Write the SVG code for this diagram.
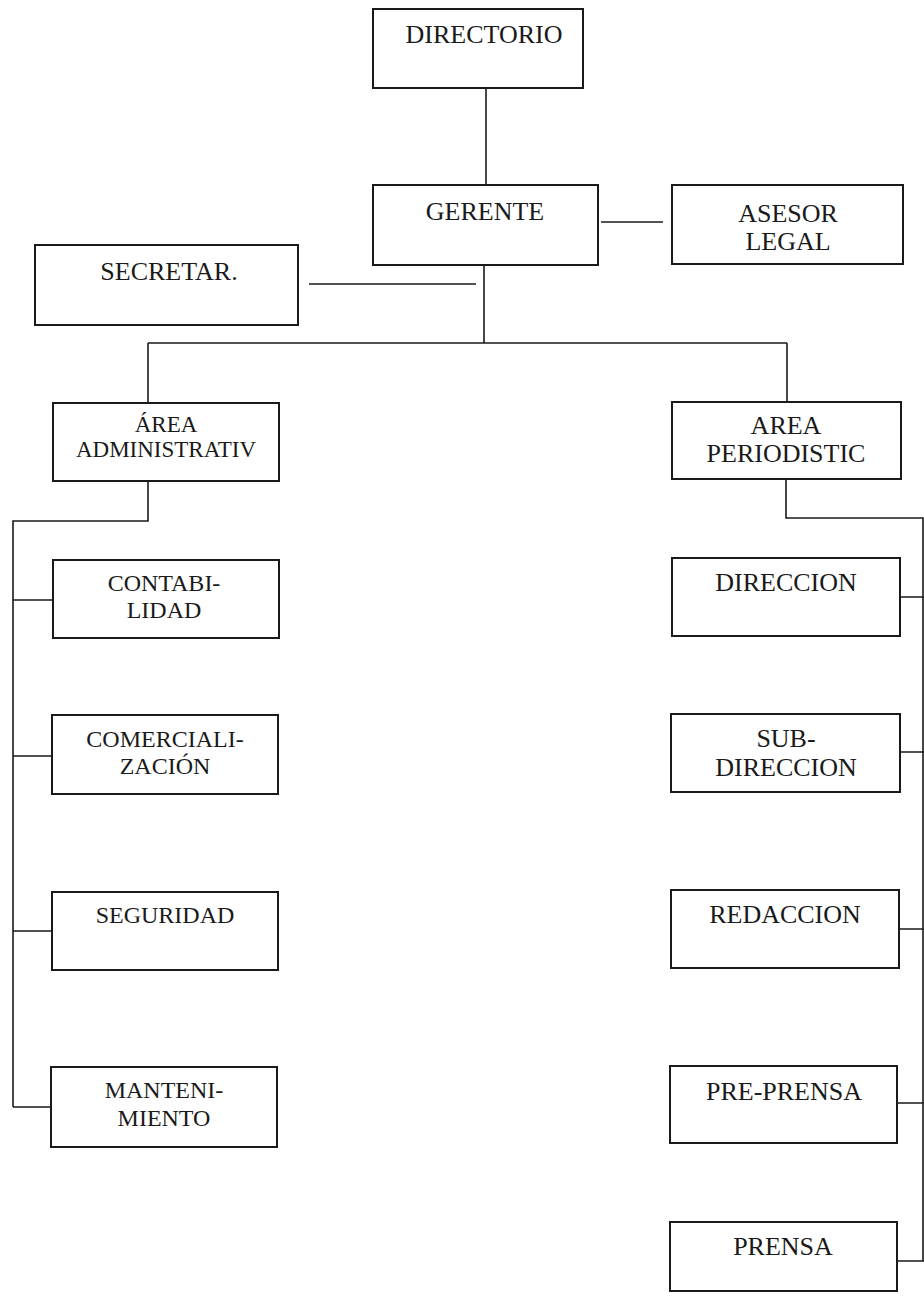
<svg xmlns="http://www.w3.org/2000/svg" width="924" height="1296" viewBox="0 0 924 1296">
<style>
.box{fill:#fff;stroke:#1a1a1a;stroke-width:2}
.t{font-family:"Liberation Serif","Times New Roman",serif;font-size:26px;fill:#1a1a1a;text-anchor:middle}
.s{font-size:24px}
.xs{font-size:23px}
.ln{fill:none;stroke:#1a1a1a;stroke-width:1.6}
</style>
<rect width="924" height="1296" fill="#fff"/>
<g id="connectors">
<path class="ln" d="M486,88V185"/>
<path class="ln" d="M601,222H663"/>
<path class="ln" d="M309,284H476"/>
<path class="ln" d="M484,265V343M148,343H787M148,343V403M787,343V402"/>
<path class="ln" d="M148,481V521H13V1107M13,600H52M13,756H52M13,931H52M13,1107H51"/>
<path class="ln" d="M786,479V518H923V1261M900,597H924M900,752H924M899,929H924M897,1103H924M897,1261H924"/>
</g>
<g id="directorio"><rect class="box" x="373" y="9" width="210" height="79"/><text class="t" x="484" y="43">DIRECTORIO</text></g>
<g id="gerente"><rect class="box" x="373" y="185" width="225" height="80"/><text class="t" x="485" y="220">GERENTE</text></g>
<g id="asesor"><rect class="box" x="672" y="185" width="231" height="79"/><text class="t" x="788" y="222">ASESOR</text><text class="t" x="788" y="250">LEGAL</text></g>
<g id="secretar"><rect class="box" x="35" y="245" width="263" height="80"/><text class="t" x="169" y="280">SECRETAR.</text></g>
<g id="area-admin"><rect class="box" x="53" y="403" width="226" height="78"/><text class="t xs" x="166" y="432">ÁREA</text><text class="t xs" x="166" y="457">ADMINISTRATIV</text></g>
<g id="area-period"><rect class="box" x="672" y="402" width="229" height="77"/><text class="t" x="786" y="434">AREA</text><text class="t" x="786" y="462">PERIODISTIC</text></g>
<g id="contabilidad"><rect class="box" x="53" y="560" width="226" height="78"/><text class="t s" x="164" y="591">CONTABI-</text><text class="t s" x="164" y="618">LIDAD</text></g>
<g id="comercializacion"><rect class="box" x="52" y="715" width="226" height="79"/><text class="t s" x="165" y="747">COMERCIALI-</text><text class="t s" x="165" y="774">ZACIÓN</text></g>
<g id="seguridad"><rect class="box" x="52" y="892" width="226" height="78"/><text class="t s" x="165" y="923">SEGURIDAD</text></g>
<g id="mantenimiento"><rect class="box" x="51" y="1067" width="226" height="80"/><text class="t s" x="164" y="1098">MANTENI-</text><text class="t s" x="164" y="1126">MIENTO</text></g>
<g id="direccion"><rect class="box" x="672" y="558" width="228" height="78"/><text class="t" x="786" y="591">DIRECCION</text></g>
<g id="subdireccion"><rect class="box" x="671" y="714" width="229" height="78"/><text class="t" x="786" y="747">SUB-</text><text class="t" x="786" y="776">DIRECCION</text></g>
<g id="redaccion"><rect class="box" x="671" y="890" width="228" height="78"/><text class="t" x="785" y="923">REDACCION</text></g>
<g id="preprensa"><rect class="box" x="670" y="1066" width="227" height="77"/><text class="t" x="784" y="1100">PRE-PRENSA</text></g>
<g id="prensa"><rect class="box" x="670" y="1222" width="227" height="69"/><text class="t" x="783" y="1255">PRENSA</text></g>
</svg>
